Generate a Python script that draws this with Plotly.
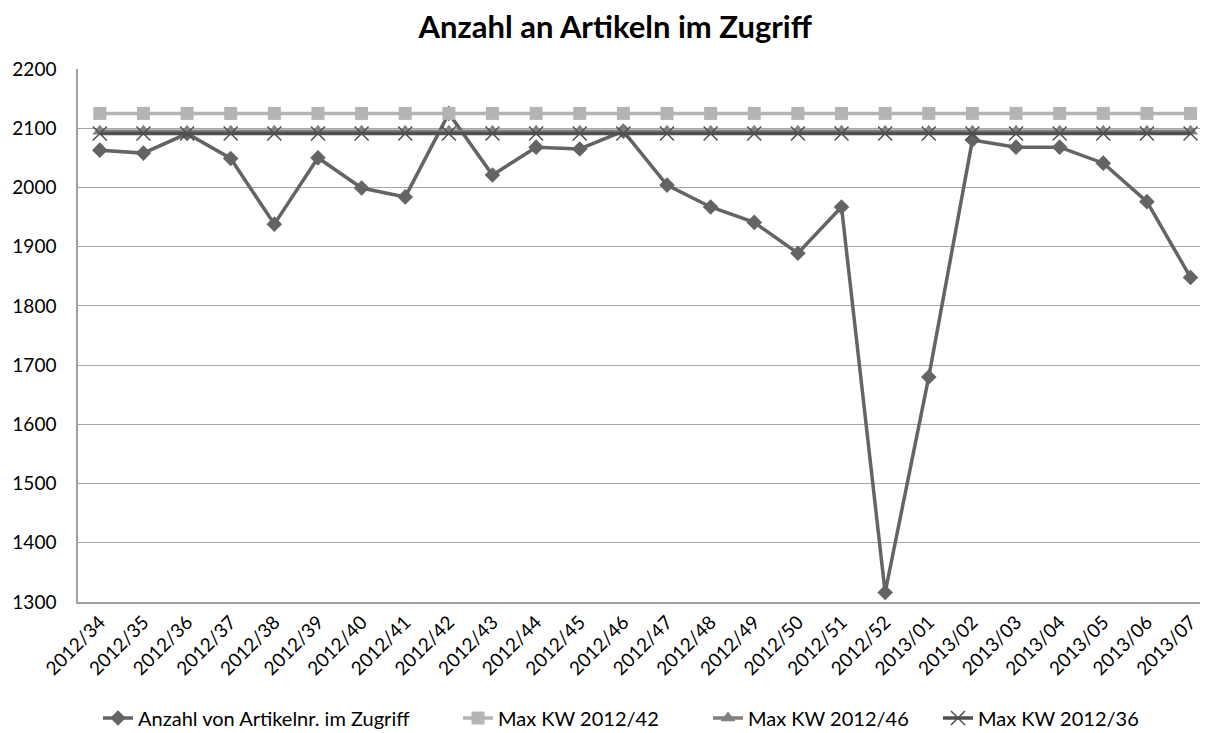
import plotly.graph_objects as go

weeks = ["2012/34","2012/35","2012/36","2012/37","2012/38","2012/39","2012/40","2012/41","2012/42",
         "2012/43","2012/44","2012/45","2012/46","2012/47","2012/48","2012/49","2012/50","2012/51",
         "2012/52","2013/01","2013/02","2013/03","2013/04","2013/05","2013/06","2013/07"]
anzahl = [2063, 2058, 2091, 2049, 1938, 2050, 1999, 1984, 2125,
          2021, 2068, 2065, 2095, 2004, 1967, 1941, 1889, 1967,
          1316, 1680, 2080, 2068, 2068, 2041, 1976, 1848]
max42 = [2125] * len(weeks)
max46 = [2095] * len(weeks)
max36 = [2091] * len(weeks)

FONT = "Lato, 'Open Sans', sans-serif"
W, H = 1200, 725  # page body has an 8px margin

fig = go.Figure()
fig.add_trace(go.Scatter(x=weeks, y=anzahl, name="Anzahl von Artikelnr. im Zugriff", mode="lines+markers",
                         line=dict(color="#646464", width=3.5), legend="legend",
                         marker=dict(symbol="diamond", size=12, color="#646464")))
fig.add_trace(go.Scatter(x=weeks, y=max42, name="Max KW 2012/42", mode="lines+markers",
                         line=dict(color="#b4b4b4", width=3.5), legend="legend2",
                         marker=dict(symbol="square", size=13, color="#b4b4b4")))
fig.add_trace(go.Scatter(x=weeks, y=max46, name="Max KW 2012/46", mode="lines+markers",
                         line=dict(color="#808080", width=3.5), legend="legend3",
                         marker=dict(symbol="triangle-up", size=13, color="#808080")))
fig.add_trace(go.Scatter(x=weeks, y=max36, name="Max KW 2012/36", mode="lines+markers",
                         line=dict(color="#4f4f4f", width=3.5), legend="legend4",
                         marker=dict(symbol="x-thin-open", size=14, color="#4f4f4f",
                                     line=dict(color="#707070", width=1.5))))

def leg(screen_x):
    return dict(orientation="h", xref="container", x=(screen_x - 8) / W, xanchor="left",
                yref="container", y=1 - 710 / H, yanchor="middle",
                font=dict(size=20, family=FONT), itemwidth=30)

fig.update_layout(
    width=W, height=H,
    margin=dict(l=70, r=0, t=61, b=131, autoexpand=False),
    paper_bgcolor="white", plot_bgcolor="white",
    font=dict(family=FONT, color="#000000"),
    title=dict(text="<b>Anzahl an Artikeln im Zugriff</b>", x=0.506, xanchor="center",
               yref="container", y=1 - 19 / H, yanchor="middle",
               font=dict(size=31, family=FONT, color="#000")),
    showlegend=True,
    legend=leg(98), legend2=leg(458), legend3=leg(708), legend4=leg(938),
    xaxis=dict(type="category", range=[-0.5, len(weeks) - 0.6], tickangle=-45,
               tickfont=dict(size=19, family=FONT), showgrid=False, automargin=False,
               showline=True, linecolor="#a0a0a0", linewidth=1.5, ticks="", zeroline=False),
    yaxis=dict(range=[1300, 2200], dtick=100, tickfont=dict(size=19, family=FONT),
               showgrid=True, gridcolor="#a6a6a6", gridwidth=1.2, automargin=False,
               showline=True, linecolor="#a0a0a0", linewidth=1.5, ticks="",
               ticklabelstandoff=16, zeroline=False),
)

fig.write_html("out.html")
